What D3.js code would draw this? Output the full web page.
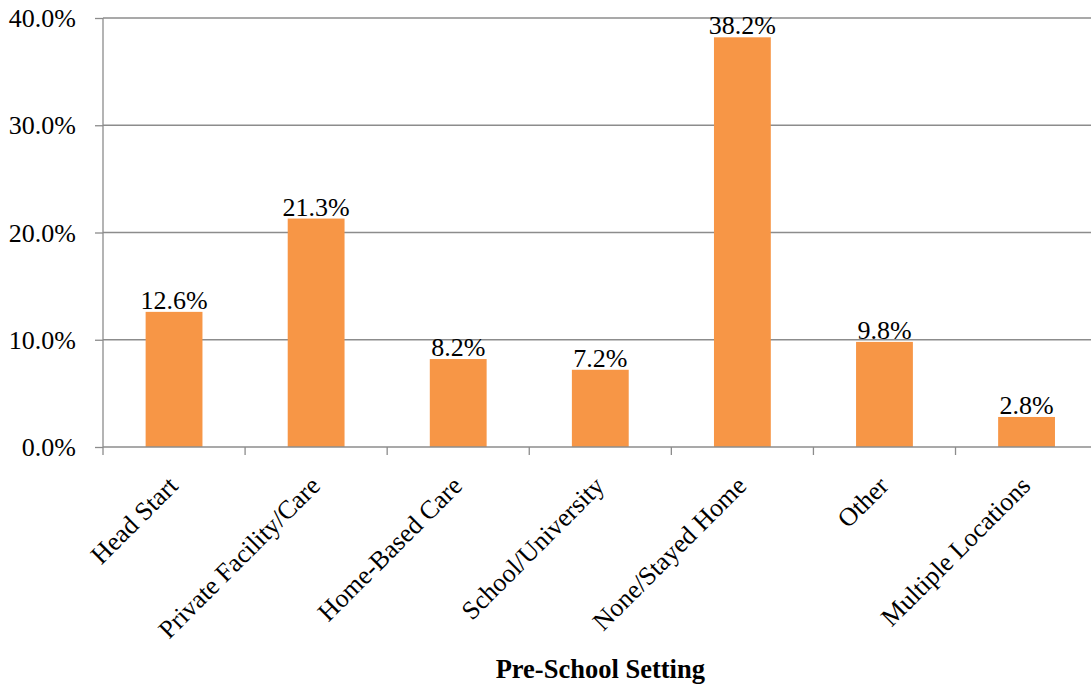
<!DOCTYPE html>
<html><head><meta charset="utf-8">
<script src="https://cdn.jsdelivr.net/npm/d3@7"></script>
<style>
html,body{margin:0;padding:0;background:#fff;}
svg{display:block;}
svg text{font-family:"Liberation Serif","Times New Roman",serif;fill:#000;}
</style></head>
<body>
<svg id="chart" width="1091" height="686"></svg>
<script>
const categories = ["Head Start","Private Facility/Care","Home-Based Care","School/University","None/Stayed Home","Other","Multiple Locations"];
const values = [12.6, 21.3, 8.2, 7.2, 38.2, 9.8, 2.8];
const yTicks = [0, 10, 20, 30, 40];
const xTitle = "Pre-School Setting";

const FONT = '"Liberation Serif","Times New Roman",serif';
const svg = d3.select("#chart");
const mLeft = 103, mTop = 18, plotW = 994.6, plotH = 429;
const x = d3.scaleBand().domain(categories).range([mLeft, mLeft + plotW]).paddingInner(0.6).paddingOuter(0.3);
const y = d3.scaleLinear().domain([0, 40]).range([mTop + plotH, mTop]);
const grid = "#8c8c8c";

// gridlines
svg.append("g").selectAll("line").data(yTicks.filter(d => d > 0)).join("line")
  .attr("x1", mLeft).attr("x2", mLeft + plotW)
  .attr("y1", d => y(d)).attr("y2", d => y(d))
  .attr("stroke", grid).attr("stroke-width", 1.3);

// y axis
const yAxis = d3.axisLeft(y).tickValues(yTicks).tickSize(8).tickPadding(19)
  .tickFormat(d => d.toFixed(1) + "%");
const gy = svg.append("g").attr("transform", `translate(${mLeft},0)`).call(yAxis);
gy.attr("font-family", FONT).attr("font-size", 26);
gy.select(".domain").remove();
gy.selectAll(".tick line").attr("stroke", grid).attr("stroke-width", 1.3);
gy.selectAll(".tick text").attr("dy", "0.33em").attr("fill", "#000");
svg.append("line").attr("x1", mLeft).attr("x2", mLeft).attr("y1", y(40)).attr("y2", y(0))
  .attr("stroke", grid).attr("stroke-width", 1.3);

// bars
svg.append("g").selectAll("rect").data(values).join("rect")
  .attr("x", (d, i) => x(categories[i]))
  .attr("y", d => y(d))
  .attr("width", x.bandwidth())
  .attr("height", d => y(0) - y(d))
  .attr("fill", "#F79646");

// x axis baseline and ticks
svg.append("line").attr("x1", mLeft).attr("x2", mLeft + plotW).attr("y1", y(0)).attr("y2", y(0))
  .attr("stroke", grid).attr("stroke-width", 1.3);
const step = x.step();
svg.append("g").selectAll("line").data(d3.range(categories.length + 1)).join("line")
  .attr("x1", i => mLeft + i * step).attr("x2", i => mLeft + i * step)
  .attr("y1", y(0)).attr("y2", y(0) + 8)
  .attr("stroke", grid).attr("stroke-width", 1.3);

// value labels
svg.append("g").selectAll("text").data(values).join("text")
  .attr("x", (d, i) => x(categories[i]) + x.bandwidth() / 2)
  .attr("y", d => y(d) - 3)
  .attr("text-anchor", "middle").attr("font-size", 26).attr("font-family", FONT)
  .text(d => d.toFixed(1) + "%");

// category labels
svg.append("g").selectAll("text").data(categories).join("text")
  .attr("transform", d => `translate(${x(d) + x.bandwidth() / 2 - 1},${y(0) + 34}) rotate(-45)`)
  .attr("text-anchor", "end").attr("dy", "0.35em").attr("font-size", 26).attr("font-family", FONT)
  .text(d => d);

// axis title
svg.append("text").attr("x", mLeft + plotW / 2).attr("y", 678)
  .attr("text-anchor", "middle").attr("font-size", 26.5).attr("font-weight", "bold").attr("font-family", FONT)
  .text(xTitle);
</script>
</body></html>
